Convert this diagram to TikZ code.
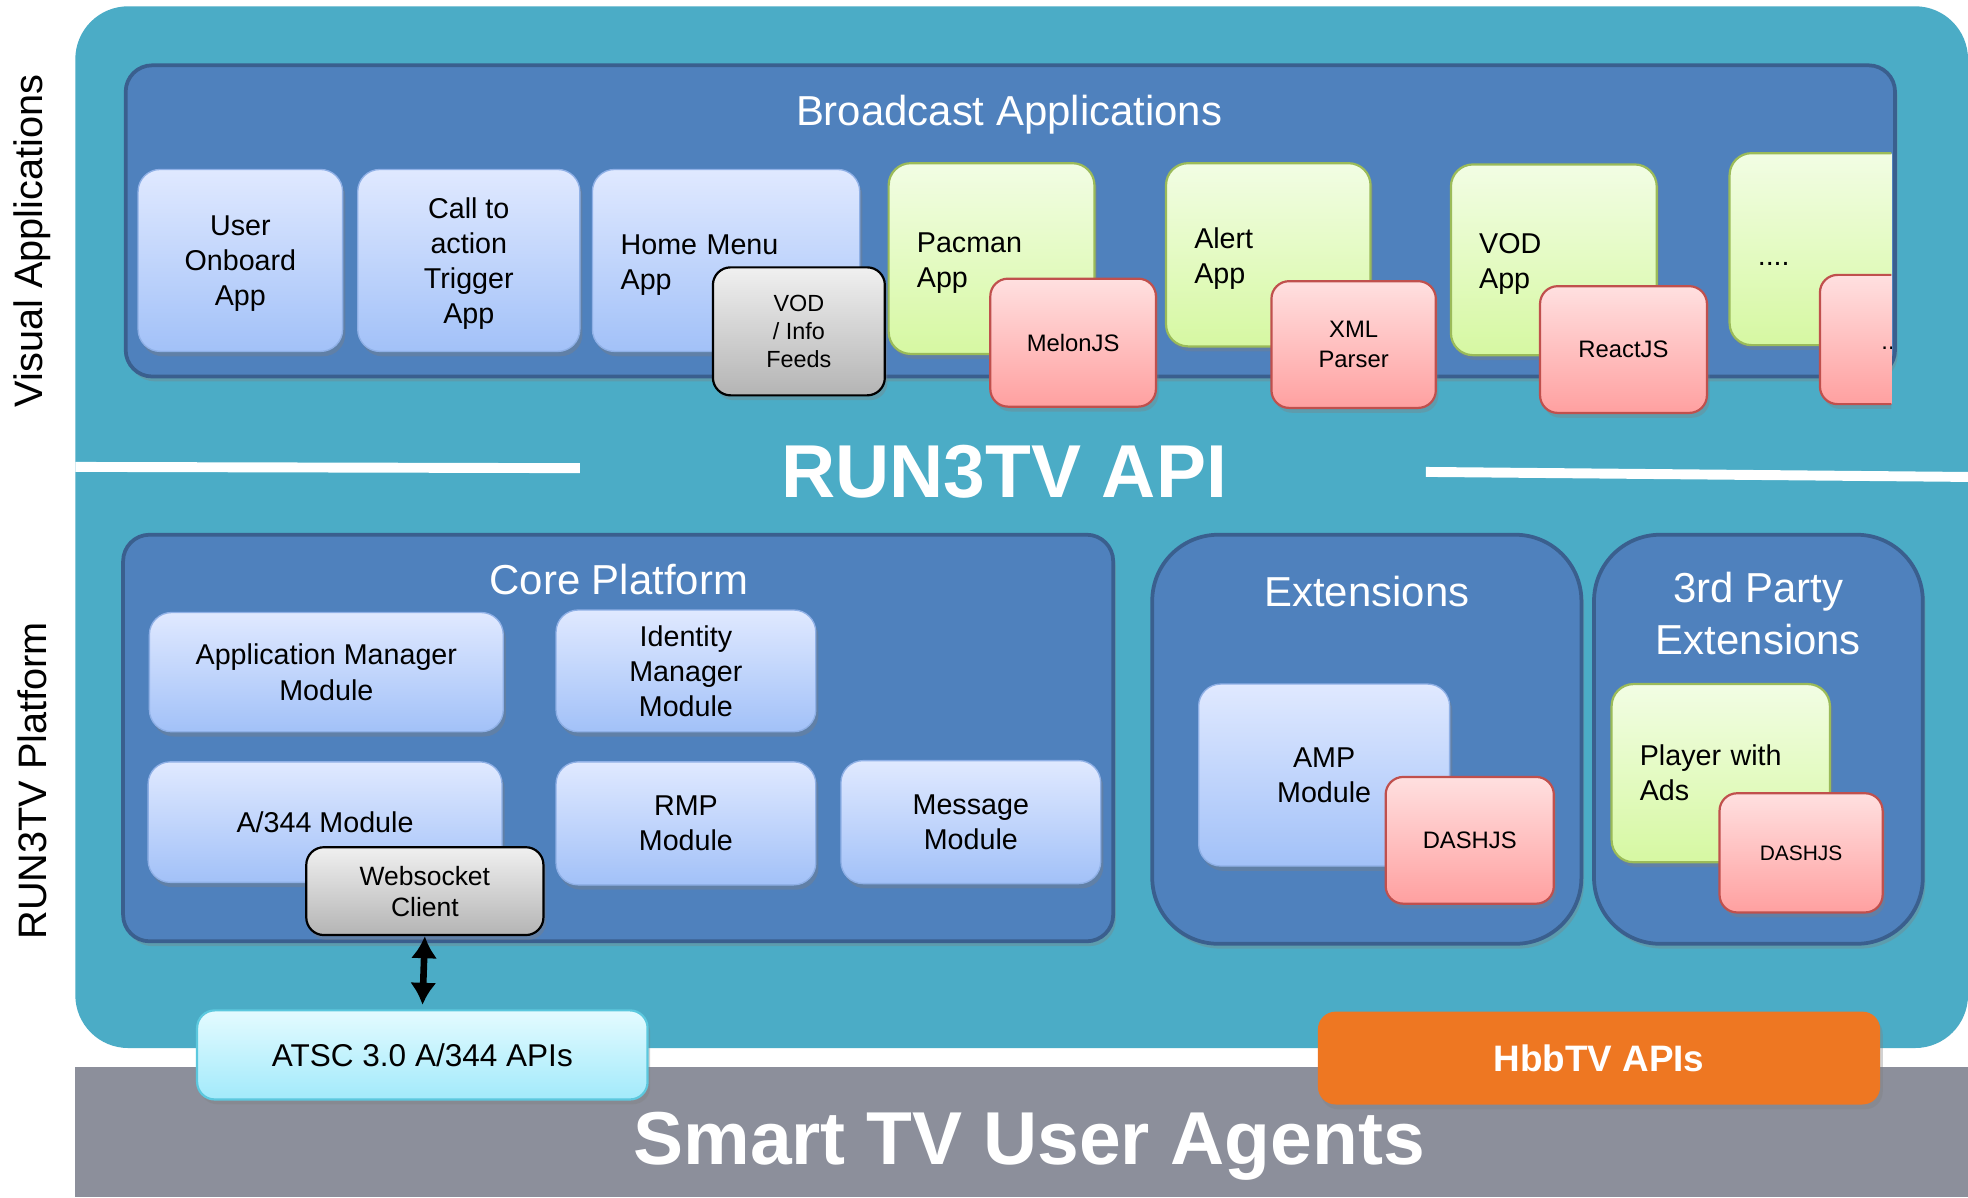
\documentclass[tikz,border=0pt]{standalone}
\usepackage{fontspec}
\setmainfont{Liberation Sans}
\usetikzlibrary{shadows,arrows.meta}
\definecolor{cTeal}{HTML}{4BACC6}
\definecolor{cGrayBand}{HTML}{8C8F9B}
\definecolor{cPanel}{HTML}{4F81BD}
\definecolor{cPanelB}{HTML}{3A5F8E}
\definecolor{cBlueT}{HTML}{E0E9FF}
\definecolor{cBlueBot}{HTML}{A2C1F8}
\definecolor{cBlueB}{HTML}{8FB0E6}
\definecolor{cGreenT}{HTML}{F2FDE4}
\definecolor{cGreenBot}{HTML}{D6F8A2}
\definecolor{cGreenB}{HTML}{9BBB59}
\definecolor{cPinkT}{HTML}{FFE0E0}
\definecolor{cPinkBot}{HTML}{FFA0A0}
\definecolor{cPinkB}{HTML}{C0504D}
\definecolor{cGrayT}{HTML}{F0F0F0}
\definecolor{cGrayBot}{HTML}{B4B4B4}
\definecolor{cCyanT}{HTML}{E4FBFF}
\definecolor{cCyanBot}{HTML}{A2EAFB}
\definecolor{cCyanB}{HTML}{5CC8DE}
\definecolor{cOrange}{HTML}{EE7722}
\begin{document}
\begin{tikzpicture}[x=0.02cm, y=-0.02cm,
  shadowed/.style={drop shadow={shadow xshift=1.2pt, shadow yshift=-2.2pt, opacity=0.35}},
  panel/.style={shadowed, draw=cPanelB, line width=1.7pt, fill=cPanel, rounded corners=12pt, inner sep=0pt},
  bigpanel/.style={panel, rounded corners=30pt},
  ttl/.style={text=white, font=\fontsize{19}{23.8}\selectfont, align=center, inner sep=0pt},
  boxtext/.style={font=\fontsize{13}{15.9}\selectfont, align=center, inner sep=0pt, text=black, text depth=0pt},
  bluebox/.style={shadowed, boxtext, draw=cBlueB, line width=0.6pt, top color=cBlueT, bottom color=cBlueBot, rounded corners=10pt},
  greenbox/.style={shadowed, boxtext, draw=cGreenB, line width=1pt, top color=cGreenT, bottom color=cGreenBot, rounded corners=10pt},
  pinkbox/.style={shadowed, boxtext, draw=cPinkB, line width=1pt, top color=cPinkT, bottom color=cPinkBot, rounded corners=8pt, font=\fontsize{10.8}{13.5}\selectfont},
  graybox/.style={shadowed, boxtext, draw=black, line width=1pt, top color=cGrayT, bottom color=cGrayBot, rounded corners=8pt},
  lefttext/.style={align=left, inner xsep=0.45cm, text depth={}, text height=13pt},
  sidelabel/.style={rotate=90, font=\fontsize{18}{20}\selectfont, text=black, inner sep=0pt},
  bigword/.style={text=white, font=\bfseries\fontsize{34}{40}\selectfont, inner sep=0pt}
]
\useasboundingbox (0,0) rectangle (1568,954);
\fill[white] (0,0) rectangle (1568,954);

% backgrounds
\fill[cTeal, rounded corners=24pt] (60,5) rectangle (1568,835);
\fill[cGrayBand] (60,850) rectangle (1568,954);
\draw[white, line width=4.5pt] (60,372) -- (462,373);
\draw[white, line width=4.5pt] (1136,376) -- (1568,380);

% side labels
\node[sidelabel] (lva) at (26,192) {Visual Applications};
\node[sidelabel] (lrp) at (26,622) {RUN3TV Platform};

% broadcast applications
\node[panel, minimum width=28.2cm, minimum height=4.96cm] (bapanel) at (805,176) {};
\node[ttl, text depth=0pt] (batitle) at (804,88) {Broadcast Applications};

\node[bluebox, minimum width=3.26cm, minimum height=2.9cm] (uoa) at (191.5,207.5) {User\\Onboard\\App};
\node[bluebox, minimum width=3.54cm, minimum height=2.9cm] (cta) at (373.5,207.5) {Call to\\action\\Trigger\\App};
\node[bluebox, lefttext, text width=3.36cm, minimum height=2.9cm] (hma) at (578.5,207.5) {Home Menu\\App};
\node[graybox, font=\fontsize{10.6}{12.8}\selectfont, minimum width=2.74cm, minimum height=2.04cm] (vodf) at (636.5,264) {VOD\\/ Info\\Feeds};

\node[greenbox, lefttext, text width=2.38cm, minimum height=3.04cm] (pac) at (790,206) {Pacman\\App};
\node[pinkbox, minimum width=2.64cm, minimum height=2.04cm] (melon) at (855,273) {MelonJS};
\node[greenbox, lefttext, text width=2.36cm, minimum height=2.92cm] (alert) at (1010.5,203) {Alert\\App};
\node[pinkbox, minimum width=2.62cm, minimum height=2.02cm] (xml) at (1078.5,274.5) {XML\\Parser};
\node[greenbox, lefttext, text width=2.38cm, minimum height=3.04cm] (vodapp) at (1238,207) {VOD\\App};
\node[pinkbox, minimum width=2.66cm, minimum height=2.02cm] (react) at (1293.5,278.5) {ReactJS};
\begin{scope}
  \clip (0,0) rectangle (1507,954);
  \node[greenbox, lefttext, text height=20pt, text width=2.38cm, minimum height=3.06cm] (moreapp) at (1460,198.5) {\strut....};
  \node[pinkbox, lefttext, inner xsep=0.98cm, text width=0.68cm, minimum height=2.06cm] (morelib) at (1516,270.5) {\strut....};
\end{scope}

\node[bigword] (api) at (800,376) {RUN3TV API};

% core platform
\node[panel, minimum width=15.78cm, minimum height=6.48cm] (core) at (492.5,588) {};
\node[ttl] (coretitle) at (493,462) {Core Platform};
\node[bluebox, minimum width=5.64cm, minimum height=1.9cm] (appmgr) at (260,535.5) {Application Manager\\Module};
\node[bluebox, minimum width=4.14cm, minimum height=1.94cm] (idmgr) at (546.5,534.5) {Identity\\Manager\\Module};
\node[bluebox, minimum width=5.64cm, minimum height=1.92cm] (a344) at (259,655) {A/344 Module};
\node[bluebox, minimum width=4.14cm, minimum height=1.96cm] (rmp) at (546.5,656) {RMP\\Module};
\node[bluebox, minimum width=4.14cm, minimum height=1.96cm] (msg) at (773.5,655) {Message\\Module};
\node[graybox, font=\fontsize{12}{14.2}\selectfont, minimum width=3.78cm, minimum height=1.4cm] (wsc) at (338.5,710) {Websocket\\Client};

% extensions
\node[bigpanel, minimum width=6.84cm, minimum height=6.52cm] (ext) at (1089,589) {};
\node[ttl] (exttitle) at (1089,471) {Extensions};
\node[bluebox, minimum width=4cm, minimum height=2.9cm] (amp) at (1055,617.5) {AMP\\Module};
\node[pinkbox, minimum width=2.68cm, minimum height=2.02cm] (dash1) at (1171,669.5) {DASHJS};

\node[bigpanel, minimum width=5.24cm, minimum height=6.52cm] (third) at (1401,589) {};
\node[ttl] (thirdtitle) at (1401,489) {3rd Party\\Extensions};
\node[greenbox, lefttext, text height={}, text width=2.58cm, minimum height=2.84cm] (player) at (1371,616) {Player with\\Ads};
\node[pinkbox, font=\fontsize{9.5}{11}\selectfont, minimum width=2.6cm, minimum height=1.9cm] (dash2) at (1435,679.5) {DASHJS};

% bottom
\node[bigword, text depth=0pt] (stv) at (820,907) {Smart TV User Agents};
\node[shadowed, boxtext, font=\fontsize{14.3}{17}\selectfont, draw=cCyanB, line width=1pt, top color=cCyanT, bottom color=cCyanBot, rounded corners=8pt, minimum width=7.18cm, minimum height=1.42cm] (atsc) at (336.5,840.5) {ATSC 3.0 A/344 APIs};
\node[shadowed, fill=cOrange, rounded corners=8pt, text=white, font=\bfseries\fontsize{16.7}{20}\selectfont, minimum width=8.96cm, minimum height=1.48cm, inner sep=0pt] (hbbtv) at (1274,843) {HbbTV APIs};

\draw[line width=3pt, {Latex[length=10pt,width=12pt]}-{Latex[length=10pt,width=12pt]}, shorten >=2pt] (wsc.south) -- (atsc.north);
\end{tikzpicture}
\end{document}
